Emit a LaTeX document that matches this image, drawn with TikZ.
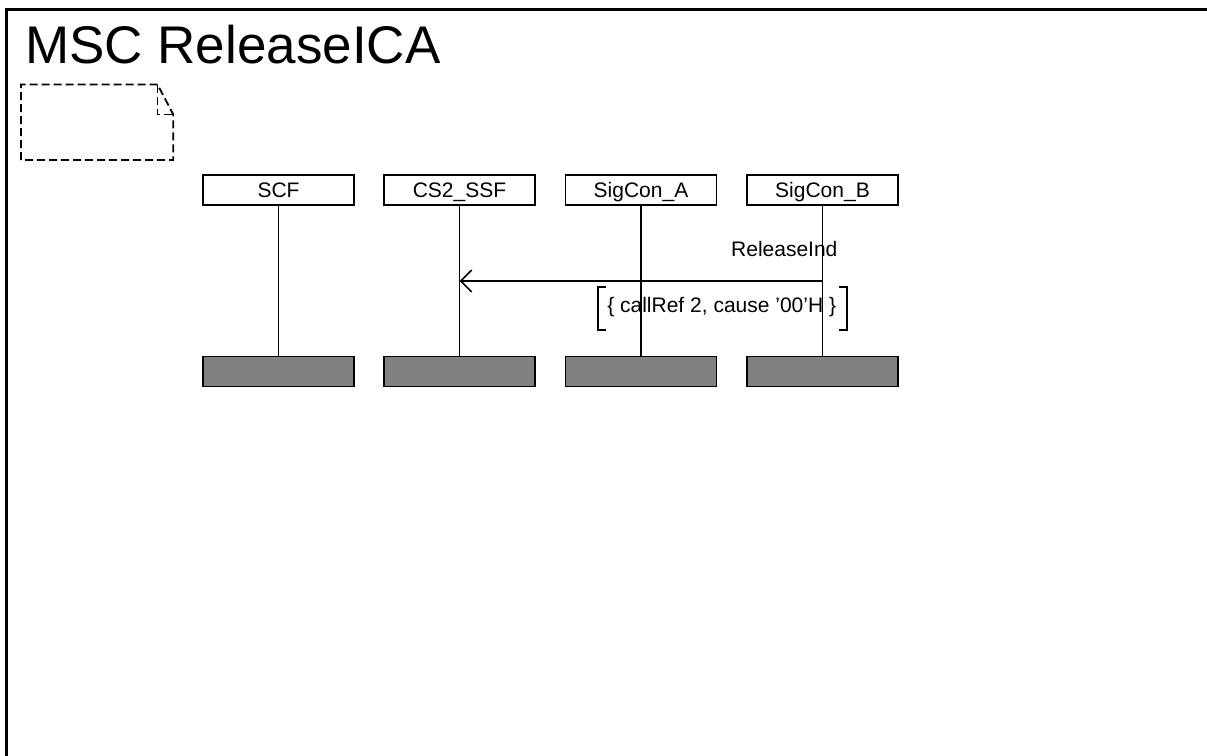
\documentclass[tikz,border=0pt]{standalone}
\usepackage{fontspec}
\setmainfont{Liberation Sans}
\usetikzlibrary{arrows.meta}
\begin{document}
\begin{tikzpicture}[x=1pt,y=-1pt,
  inst/.style={draw,line width=1.8pt,fill=white,minimum width=151pt,minimum height=30pt,inner sep=0pt,text height=15pt,text depth=0pt,font=\fontsize{21}{24}\selectfont},
  endbox/.style={draw,line width=1.8pt,fill=black!50,minimum width=151pt,minimum height=30pt,inner sep=0pt},
  life/.style={line width=1.7pt},
  msg/.style={line width=1.7pt,-{Straight Barb[length=11pt,width=22pt,line width=1.7pt]}},
  lbl/.style={font=\fontsize{21}{24}\selectfont,inner sep=0pt},
  cmt/.style={line width=1.8pt,dash pattern=on 8pt off 4pt}]
\useasboundingbox (0,0) rectangle (1207,755);
% frame
\draw[line width=2.6pt] (6.2,760) -- (6.2,9.5) -- (1212,9.5);
\node[anchor=base west,inner sep=0pt,font=\fontsize{53}{60}\selectfont] (title) at (25,63) {MSC ReleaseICA};
% comment symbol
\draw[cmt] (157.5,84.5) -- (21,84.5) -- (21,160) -- (173.3,160) -- (173.3,114.5) -- cycle;
\draw[cmt] (157.5,84.5) -- (157.5,114.5) -- (173.3,114.5);
% instances
\node[inst] (scf) at (278.5,190) {SCF};
\node[inst] (ssf) at (459.5,190) {CS2\_SSF};
\node[inst] (sa) at (641,190) {SigCon\_A};
\node[inst] (sb) at (822.5,190) {SigCon\_B};
\node[endbox] (scfe) at (278.5,371.5) {};
\node[endbox] (ssfe) at (459.5,371.5) {};
\node[endbox] (sae) at (641,371.5) {};
\node[endbox] (sbe) at (822.5,371.5) {};
\draw[life] (scf.south) -- (scfe.north);
\draw[life] (ssf.south) -- (ssfe.north);
\draw[life] (sa.south) -- (sae.north);
\draw[life] (sb.south) -- (sbe.north);
% message
\coordinate (m1) at (822.5,281);
\coordinate (m2) at (459.5,281);
\draw[msg] (m1) -- (m2);
\node[lbl,anchor=base] (rel) at (784.3,256) {ReleaseInd};
\node[lbl] (par) at (721.7,307) {\{ callRef 2, cause ’00’H \}};
\draw[line width=1.9pt] (606,287) -- (598,287) -- (598,330) -- (606,330);
\draw[line width=1.9pt] (839,287) -- (847,287) -- (847,330) -- (839,330);
\end{tikzpicture}
\end{document}
